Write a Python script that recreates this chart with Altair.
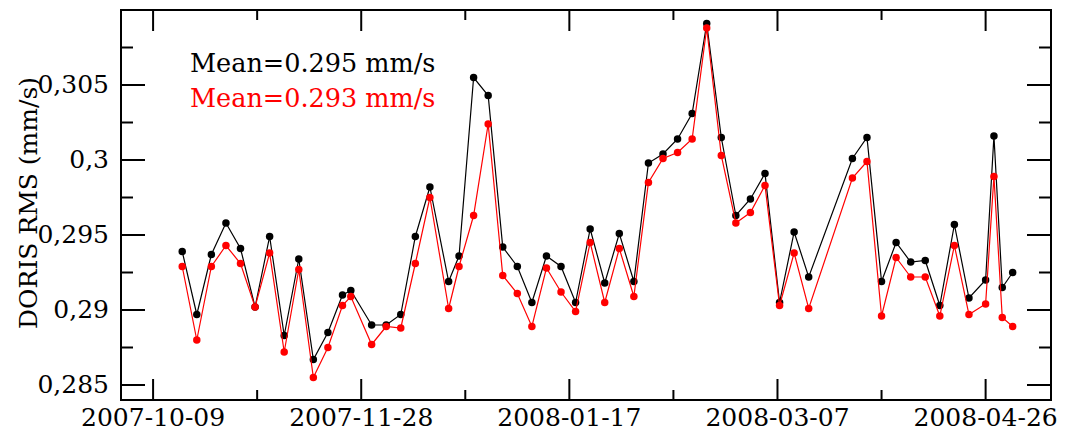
import altair as alt
import pandas as pd

# ---- data ----
dates = ["2007-10-16T00:00","2007-10-19T12:00","2007-10-23T00:00","2007-10-26T12:00","2007-10-30T00:00",
         "2007-11-02T12:00","2007-11-06T00:00","2007-11-09T12:00","2007-11-13T00:00","2007-11-16T12:00",
         "2007-11-20T00:00","2007-11-23T12:00","2007-11-25T12:00","2007-11-30T12:00","2007-12-04T00:00",
         "2007-12-07T12:00","2007-12-11T00:00","2007-12-14T12:00","2007-12-19T00:00","2007-12-21T12:00",
         "2007-12-25T00:00","2007-12-28T12:00","2008-01-01T00:00","2008-01-04T12:00","2008-01-08T00:00",
         "2008-01-11T12:00","2008-01-15T00:00","2008-01-18T12:00","2008-01-22T00:00","2008-01-25T12:00",
         "2008-01-29T00:00","2008-02-01T12:00","2008-02-05T00:00","2008-02-08T12:00","2008-02-12T00:00",
         "2008-02-15T12:00","2008-02-19T00:00","2008-02-22T12:00","2008-02-26T00:00","2008-02-29T12:00",
         "2008-03-04T00:00","2008-03-07T12:00","2008-03-11T00:00","2008-03-14T12:00","2008-03-25T00:00",
         "2008-03-28T12:00","2008-04-01T00:00","2008-04-04T12:00","2008-04-08T00:00","2008-04-11T12:00",
         "2008-04-15T00:00","2008-04-18T12:00","2008-04-22T00:00","2008-04-26T00:00","2008-04-28T00:00",
         "2008-04-30T00:00","2008-05-02T12:00"]

black_rms = [0.2939, 0.2897, 0.2937, 0.2958, 0.2941, 0.2902, 0.2949, 0.2883, 0.2934, 0.2867,
             0.2885, 0.2910, 0.2913, 0.2890, 0.2890, 0.2897, 0.2949, 0.2982, 0.2919, 0.2936,
             0.3055, 0.3043, 0.2942, 0.2929, 0.2905, 0.2936, 0.2929, 0.2905, 0.2954, 0.2918,
             0.2951, 0.2919, 0.2998, 0.3004, 0.3014, 0.3031, 0.3091, 0.3015, 0.2963, 0.2974,
             0.2991, 0.2905, 0.2952, 0.2922, 0.3001, 0.3015, 0.2919, 0.2945, 0.2932, 0.2933,
             0.2903, 0.2957, 0.2908, 0.2920, 0.3016, 0.2915, 0.2925]

red_rms = [0.2929, 0.2880, 0.2929, 0.2943, 0.2931, 0.2902, 0.2938, 0.2872, 0.2927, 0.2855,
           0.2875, 0.2903, 0.2909, 0.2877, 0.2889, 0.2888, 0.2931, 0.2975, 0.2901, 0.2929,
           0.2963, 0.3024, 0.2923, 0.2911, 0.2889, 0.2928, 0.2912, 0.2899, 0.2945, 0.2905,
           0.2941, 0.2909, 0.2985, 0.3001, 0.3005, 0.3014, 0.3088, 0.3003, 0.2958, 0.2965,
           0.2983, 0.2903, 0.2938, 0.2901, 0.2988, 0.2999, 0.2896, 0.2935, 0.2922, 0.2922,
           0.2896, 0.2943, 0.2897, 0.2904, 0.2989, 0.2895, 0.2889]

mean_labels = ["Mean=0.295 mm/s", "Mean=0.293 mm/s"]
y_title = ["DORIS RMS (mm/s)"]

x_major = ["2007-10-09T00:00", "2007-11-28T00:00", "2008-01-17T00:00", "2008-03-07T00:00", "2008-04-26T00:00"]
x_labels = ["2007-10-09", "2007-11-28", "2008-01-17", "2008-03-07", "2008-04-26"]
x_minor = ["2007-11-03T00:00", "2007-12-23T00:00", "2008-02-11T00:00", "2008-04-01T00:00"]
y_major = [0.285, 0.29, 0.295, 0.3, 0.305]
y_labels = ["0,285", "0,29", "0,295", "0,3", "0,305"]
y_minor = [0.2875, 0.2925, 0.2975, 0.3025, 0.3075]

# ---- layout ----
W, H = 930, 390
FONT = "DejaVu Serif"

x_scale = alt.Scale(domain=[alt.DateTime(year=2007, month=10, date=1, hours=7),
                            alt.DateTime(year=2008, month=5, date=11, hours=17)])
y_scale = alt.Scale(domain=[0.284, 0.310], zero=False, nice=False)

X_NO = alt.X("date:T", scale=x_scale, axis=None)
Y_NO = alt.Y("value:Q", scale=y_scale, axis=None)

df_black = pd.DataFrame({"date": dates, "value": black_rms})
df_red = pd.DataFrame({"date": dates, "value": red_rms})

line_black = alt.Chart(df_black).mark_line(color="black", strokeWidth=1.2).encode(x=X_NO, y=Y_NO)
pts_black = alt.Chart(df_black).mark_point(filled=True, shape="circle", size=56, color="black",
                                           opacity=1).encode(x=X_NO, y=Y_NO)
line_red = alt.Chart(df_red).mark_line(color="red", strokeWidth=1.2).encode(x=X_NO, y=Y_NO)
pts_red = alt.Chart(df_red).mark_point(filled=True, shape="circle", size=56, color="red",
                                       opacity=1).encode(x=X_NO, y=Y_NO)

# ticks drawn inward on all four sides
df_xmaj = pd.DataFrame({"date": x_major, "label": x_labels})
df_xmin = pd.DataFrame({"date": x_minor})
df_ymaj = pd.DataFrame({"value": y_major, "label": y_labels})
df_ymin = pd.DataFrame({"value": y_minor})

tick_layers = []
for df, length in [(df_xmaj, 21), (df_xmin, 10)]:
    tick_layers.append(alt.Chart(df).mark_rule(color="black", strokeWidth=2).encode(
        x=X_NO, y=alt.value(H), y2=alt.value(H - length)))
    tick_layers.append(alt.Chart(df).mark_rule(color="black", strokeWidth=2).encode(
        x=X_NO, y=alt.value(0), y2=alt.value(length)))
for df, length in [(df_ymaj, 24), (df_ymin, 12)]:
    tick_layers.append(alt.Chart(df).mark_rule(color="black", strokeWidth=2).encode(
        y=Y_NO, x=alt.value(0), x2=alt.value(length)))
    tick_layers.append(alt.Chart(df).mark_rule(color="black", strokeWidth=2).encode(
        y=Y_NO, x=alt.value(W - length), x2=alt.value(W)))

# tick labels, placed through the scales
xlab = alt.Chart(df_xmaj).mark_text(font=FONT, fontSize=25, color="black", align="center",
                                    baseline="alphabetic").encode(
    x=X_NO, y=alt.value(H + 26), text="label:N")
ylab = alt.Chart(df_ymaj).mark_text(font=FONT, fontSize=25, color="black", align="right",
                                    baseline="middle").encode(
    y=Y_NO, x=alt.value(-12), text="label:N")
ytitle = alt.Chart(pd.DataFrame({"t": y_title})).mark_text(
    font=FONT, fontSize=25, color="black", align="center", baseline="alphabetic", angle=270).encode(
    x=alt.value(-84), y=alt.value(193), text="t:N")

df_text = pd.DataFrame({"label": mean_labels})
txt_black = alt.Chart(df_text.iloc[[0]]).mark_text(
    font=FONT, fontSize=25.5, color="black", align="left", baseline="alphabetic").encode(
    text="label:N", x=alt.value(69), y=alt.value(62))
txt_red = alt.Chart(df_text.iloc[[1]]).mark_text(
    font=FONT, fontSize=25.5, color="red", align="left", baseline="alphabetic").encode(
    text="label:N", x=alt.value(69), y=alt.value(97))

chart = alt.layer(
    line_black, pts_black, line_red, pts_red, *tick_layers, xlab, ylab, ytitle, txt_black, txt_red,
).properties(
    width=W, height=H,
    autosize=alt.AutoSizeParams(type="none"),
    padding={"left": 113, "top": 2, "right": 7, "bottom": 33},
    background="white",
).configure_view(stroke="black", strokeWidth=2)

chart.save("out.html", embed_options={"renderer": "svg", "actions": False})
